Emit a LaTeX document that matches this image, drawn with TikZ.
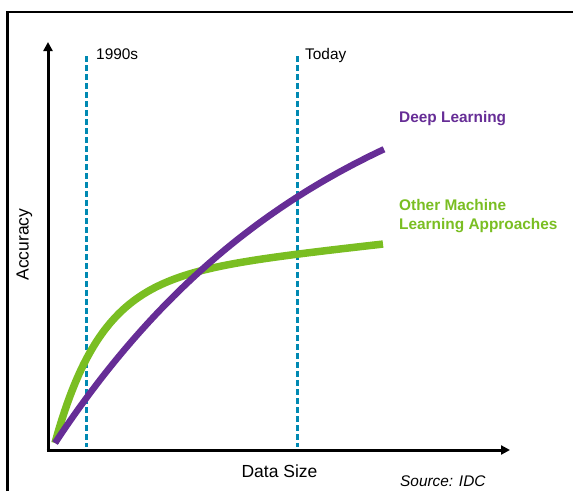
\documentclass[tikz,border=0pt]{standalone}
\usepackage{fontspec}
\setmainfont{Liberation Sans}
\usetikzlibrary{arrows.meta}
\definecolor{dlpurple}{RGB}{102,45,150}
\definecolor{mlgreen}{RGB}{122,190,34}
\definecolor{erateal}{RGB}{0,137,178}
\tikzset{
  frameline/.style={line width=2.2pt,black},
  axis/.style={line width=3pt,black,-{Triangle[length=9pt,width=9pt]}},
  eraline/.style={line width=3pt,erateal,dash pattern=on 6pt off 3pt},
  dlcurve/.style={line width=6.5pt,dlpurple},
  mlcurve/.style={line width=7.5pt,mlgreen},
  lbl/.style={inner sep=0pt,font=\fontsize{15.4}{18.7}\selectfont},
  axlbl/.style={inner sep=0pt,font=\fontsize{17.5}{20}\selectfont},
}
\begin{document}
\begin{tikzpicture}[x=1pt,y=-1pt]
\useasboundingbox (0,0) rectangle (573,491);
% frame
\draw[frameline] (7.5,491) -- (7.5,12) -- (573,12);
% eras
\coordinate (e1t) at (86,56);
\coordinate (e1b) at (86,447);
\coordinate (e2t) at (297,56);
\coordinate (e2b) at (297,447);
\draw[eraline] (e1t) -- (e1b);
\draw[eraline] (e2t) -- (e2b);
% curves
\draw[mlcurve] plot[domain=55:383,samples=120,smooth]
  (\x,{443-163*(1-exp(-(\x-55)/46))-0.11*(\x-55)});
\draw[dlcurve] plot[domain=55:384,samples=120,smooth]
  (\x,{443-425*(1-exp(-(\x-55)/280))});
% axes
\coordinate (O) at (48,450);
\coordinate (O2) at (46.5,450);
\coordinate (ytop) at (48,42);
\coordinate (xend) at (510,450);
\draw[axis] (O) -- (ytop);
\draw[axis] (O2) -- (xend);
% labels
\node[lbl,anchor=base west] (t1990) at (96,59.5) {1990s};
\node[lbl,anchor=base west] (ttoday) at (305,59.5) {Today};
\node[lbl,anchor=base west,text=dlpurple,font=\fontsize{15.4}{18.7}\selectfont\bfseries] (tdl) at (399,122.5) {Deep Learning};
\node[lbl,anchor=base west,text=mlgreen,font=\fontsize{15.4}{18.7}\selectfont\bfseries] (tml1) at (399,210.5) {Other Machine};
\node[lbl,anchor=base west,text=mlgreen,font=\fontsize{15.4}{18.7}\selectfont\bfseries] (tml2) at (399,229.3) {Learning Approaches};
\node[axlbl,anchor=base,rotate=90] (tacc) at (28.5,244.5) {Accuracy};
\node[axlbl,anchor=base] (tdata) at (279.5,477.5) {Data Size};
\node[lbl,anchor=base west,font=\fontsize{15.4}{18.7}\selectfont\itshape] (tsrc) at (400,486.5) {Source: IDC};
\end{tikzpicture}
\end{document}
